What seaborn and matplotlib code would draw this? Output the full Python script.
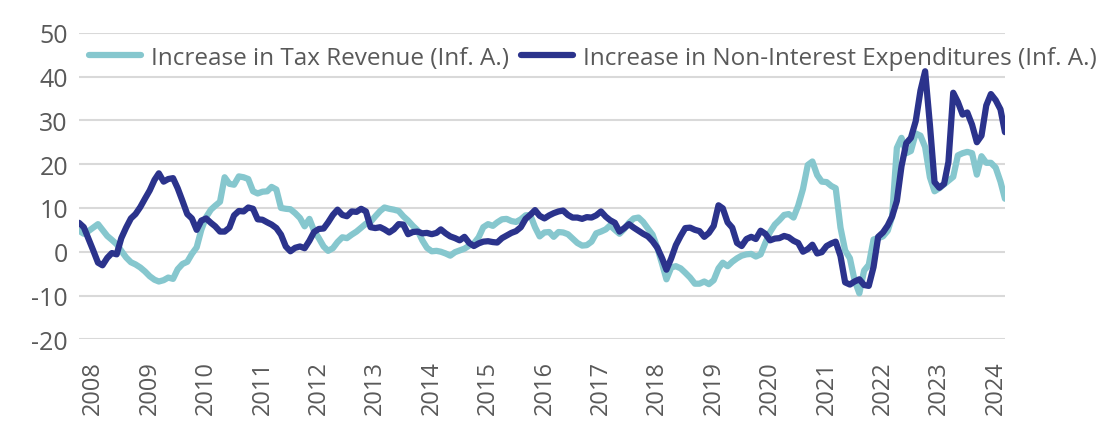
import numpy as np
import pandas as pd
import seaborn as sns
import matplotlib.pyplot as plt
import matplotlib.dates as mdates

# monthly, Oct 2007 - Mar 2024
months = pd.date_range("2007-10-01", periods=198, freq="MS")

tax_revenue = [
    4.8, 4.1, 4.7, 5.5, 6.3, 5.0, 3.6, 2.7, 1.7, 0.2, -1.3, -2.4,
    -2.9, -3.6, -4.5, -5.6, -6.4, -6.8, -6.5, -5.9, -6.2, -4.0, -2.8, -2.3,
    -0.5, 1.0, 5.0, 7.9, 9.6, 10.5, 11.4, 17.0, 15.5, 15.3, 17.2, 17.0,
    16.6, 13.8, 13.3, 13.7, 13.8, 14.8, 14.2, 10.0, 9.8, 9.7, 8.8, 7.7,
    5.8, 7.5, 4.8, 3.1, 1.2, 0.2, 0.8, 2.2, 3.3, 3.1, 3.9, 4.6,
    5.5, 6.4, 6.8, 8.1, 9.3, 10.1, 9.8, 9.6, 9.3, 8.1, 7.1, 5.9,
    4.9, 2.6, 0.9, 0.1, 0.2, 0.0, -0.4, -0.9, -0.1, 0.3, 0.7, 1.4,
    1.9, 3.3, 5.6, 6.3, 5.9, 6.7, 7.4, 7.5, 7.0, 6.8, 7.4, 8.3,
    8.4, 5.6, 3.5, 4.4, 4.5, 3.4, 4.5, 4.4, 4.0, 3.0, 2.0, 1.4,
    1.5, 2.3, 4.2, 4.6, 5.1, 6.0, 5.0, 4.1, 5.2, 6.6, 7.6, 7.8,
    6.8, 5.3, 3.9, 0.9, -2.8, -6.3, -3.6, -3.3, -3.8, -4.8, -5.9, -7.3,
    -7.3, -6.8, -7.4, -6.5, -3.8, -2.5, -3.3, -2.3, -1.5, -0.9, -0.6, -0.5,
    -1.1, -0.6, 2.0, 4.5, 6.2, 7.2, 8.4, 8.6, 7.8, 10.5, 14.3, 19.8,
    20.6, 17.5, 16.0, 15.9, 15.0, 14.5, 5.5, 0.3, -1.5, -6.5, -9.5, -4.3,
    -3.0, 2.8, 3.1, 3.5, 4.8, 8.0, 23.7, 26.0, 22.5, 23.0, 27.0, 26.5,
    23.9, 17.0, 13.8, 14.5, 15.4, 16.2, 17.1, 22.0, 22.5, 22.8, 22.5, 17.6,
    21.8, 20.3, 20.3, 19.2, 16.0, 12.1,
]

non_interest_exp = [
    6.6, 5.6, 3.0, 0.3, -2.5, -3.1, -1.4, -0.3, -0.6, 3.1, 5.5, 7.6,
    8.6, 10.2, 12.1, 14.0, 16.4, 17.9, 16.0, 16.6, 16.8, 14.5, 11.6, 8.6,
    7.6, 5.0, 7.1, 7.6, 6.6, 5.8, 4.6, 4.6, 5.5, 8.3, 9.3, 9.2,
    10.1, 9.8, 7.4, 7.3, 6.7, 6.2, 5.4, 3.9, 1.2, 0.1, 0.9, 1.2,
    0.8, 2.5, 4.5, 5.2, 5.3, 6.7, 8.4, 9.6, 8.4, 8.1, 9.2, 9.1,
    9.8, 9.2, 5.6, 5.4, 5.6, 5.1, 4.4, 5.1, 6.3, 6.2, 4.0, 4.5,
    4.6, 4.2, 4.3, 4.0, 4.3, 5.1, 4.2, 3.5, 3.1, 2.6, 3.4, 2.0,
    1.3, 1.9, 2.3, 2.4, 2.2, 2.1, 3.1, 3.7, 4.3, 4.7, 5.6, 7.5,
    8.4, 9.5, 8.2, 7.6, 8.3, 8.8, 9.2, 9.4, 8.4, 7.8, 7.8, 7.5,
    7.9, 7.8, 8.3, 9.2, 8.0, 7.2, 6.6, 4.6, 5.4, 6.3, 5.5, 4.8,
    4.1, 3.5, 2.4, 0.9, -1.5, -4.1, -1.5, 1.5, 3.6, 5.4, 5.5, 5.0,
    4.7, 3.4, 4.3, 5.9, 10.6, 9.9, 6.7, 5.5, 2.0, 1.3, 2.9, 3.4,
    2.9, 4.8, 4.1, 2.6, 3.0, 3.1, 3.6, 3.3, 2.5, 2.0, 0.0, 0.6,
    1.6, -0.4, -0.1, 1.3, 1.9, 2.3, -1.0, -7.0, -7.5, -6.8, -6.3, -7.6,
    -7.8, -3.5, 3.4, 4.4, 6.0, 8.0, 11.6, 19.5, 24.8, 26.0, 29.8, 36.8,
    41.2, 29.0, 15.9, 14.6, 15.5, 20.5, 36.3, 34.2, 31.3, 31.8, 29.0, 25.0,
    26.5, 33.4, 36.0, 34.6, 32.5, 27.3,
]

labels = ["Increase in Tax Revenue (Inf. A.)",
          "Increase in Non-Interest Expenditures (Inf. A.)"]
colors = ["#86C7CE", "#2B338C"]

df = pd.DataFrame({"date": months, labels[0]: tax_revenue, labels[1]: non_interest_exp})
long = df.melt(id_vars="date", var_name="series", value_name="value")

sns.set_theme(style="white")
plt.rcParams["font.family"] = ["Open Sans", "DejaVu Sans"]
plt.rcParams["axes.unicode_minus"] = False

fig = plt.figure(figsize=(11.08, 4.27), dpi=100)
ax = fig.add_axes([0.0713, 0.203, 0.8357, 0.718])

sns.lineplot(data=long, x="date", y="value", hue="series", hue_order=labels,
             palette=colors, linewidth=4.5, ax=ax)

ax.set_ylim(-20, 50)
ax.set_yticks(range(-20, 51, 10))
ax.set_xlim(months[0], months[-1])
years = pd.date_range("2008-01-01", "2024-01-01", freq="YS")
ax.set_xticks(years)
ax.xaxis.set_major_formatter(mdates.DateFormatter("%Y"))
ax.tick_params(axis="x", rotation=90, labelsize=17, colors="#595959", length=0, pad=15)
ax.tick_params(axis="y", labelsize=18, colors="#595959", length=0, pad=8)
ax.grid(axis="y", color="#D9D9D9", linewidth=1.5)
ax.set_axisbelow(True)
for s in ax.spines.values():
    s.set_visible(False)
ax.set_xlabel("")
ax.set_ylabel("")

ax.legend(loc="upper left", bbox_to_anchor=(0.0, 0.99), ncol=2, frameon=False,
          fontsize=17.5, labelcolor="#595959", handlelength=2.15,
          handletextpad=0.4, columnspacing=0.5, borderaxespad=0)

fig.savefig("out.png", dpi=100)
